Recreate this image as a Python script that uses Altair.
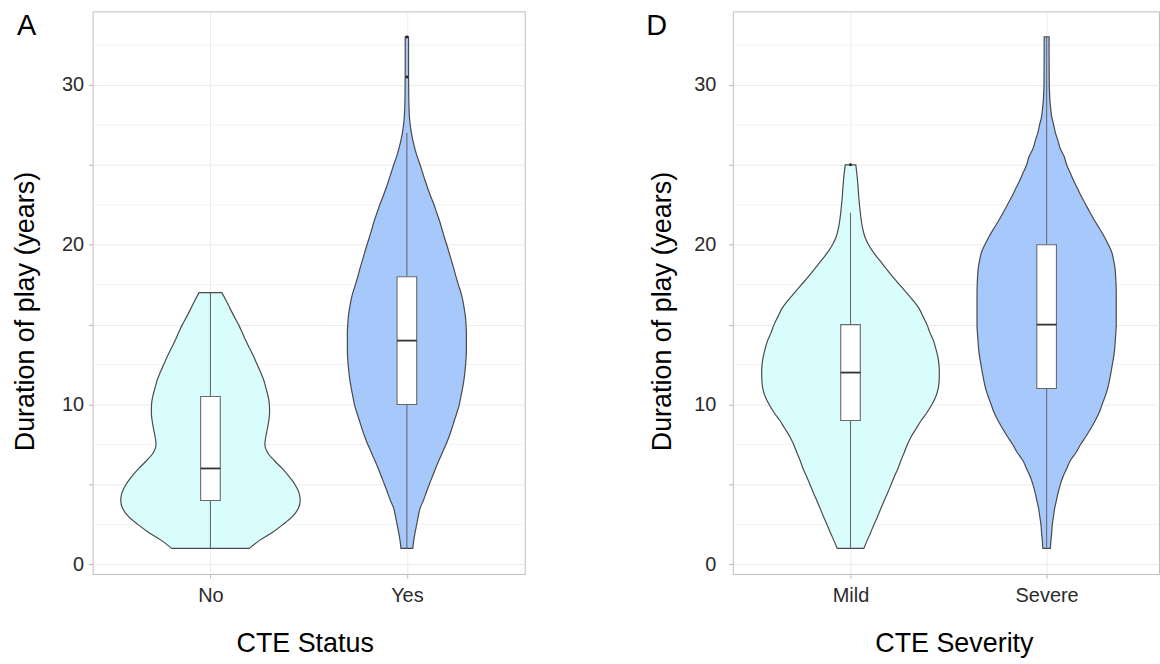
import altair as alt
import pandas as pd

FONT = "Liberation Sans"

# ---------------- data ----------------
status_cats = ["No", "Yes"]
severity_cats = ["Mild", "Severe"]
fill_light = "#d9fdfd"
fill_blue = "#a6c8fa"

# violin half-widths (in category units) at each duration value
no_y = [1.0, 1.5, 2.0, 2.5, 3.0, 3.5, 4.0, 4.5, 5.0, 5.5, 6.0, 6.5, 7.0, 7.5, 8.0, 8.5,
        9.0, 9.5, 10.0, 10.5, 11.0, 11.5, 12.0, 12.5, 13.0, 13.5, 14.0, 14.5, 15.0, 15.5,
        16.0, 16.5, 17.0]
no_hw = [0.198, 0.25, 0.315, 0.37, 0.418, 0.447, 0.457, 0.45, 0.43, 0.40, 0.365, 0.325,
         0.29, 0.277, 0.282, 0.29, 0.297, 0.301, 0.30, 0.294, 0.283, 0.272, 0.256, 0.238,
         0.22, 0.20, 0.18, 0.162, 0.143, 0.121, 0.10, 0.08, 0.058]

yes_y = [1.0, 1.5, 2.0, 2.5, 3.0, 3.5, 4.0, 4.5, 5.0, 5.5, 6.0, 6.5, 7.0, 7.5, 8.0, 8.5,
         9.0, 9.5, 10.0, 10.5, 11.0, 11.5, 12.0, 12.5, 13.0, 13.5, 14.0, 14.5, 15.0, 15.5,
         16.0, 16.5, 17.0, 17.5, 18.0, 18.5, 19.0, 19.5, 20.0, 20.5, 21.0, 21.5, 22.0, 22.5,
         23.0, 23.5, 24.0, 24.5, 25.0, 25.5, 26.0, 26.5, 27.0, 27.5, 28.0, 28.5, 29.0, 30.0,
         31.0, 32.0, 33.0]
yes_hw = [0.03, 0.035, 0.042, 0.05, 0.058, 0.067, 0.084, 0.099, 0.114, 0.13, 0.146, 0.163,
          0.181, 0.199, 0.215, 0.229, 0.242, 0.255, 0.267, 0.275, 0.283, 0.29, 0.295, 0.299,
          0.302, 0.303, 0.303, 0.303, 0.301, 0.298, 0.292, 0.285, 0.275, 0.262, 0.25, 0.239,
          0.227, 0.215, 0.203, 0.19, 0.178, 0.166, 0.152, 0.138, 0.122, 0.107, 0.093, 0.08,
          0.067, 0.053, 0.041, 0.031, 0.023, 0.017, 0.013, 0.011, 0.01, 0.009, 0.0085,
          0.0085, 0.0085]

mild_y = [1.0, 1.5, 2.0, 2.5, 3.0, 3.5, 4.0, 4.5, 5.0, 5.5, 6.0, 6.5, 7.0, 7.5, 8.0, 8.5,
          9.0, 9.5, 10.0, 10.5, 11.0, 11.5, 12.0, 12.5, 13.0, 13.5, 14.0, 14.5, 15.0, 15.5,
          16.0, 16.5, 17.0, 17.5, 18.0, 18.5, 19.0, 19.5, 20.0, 20.5, 21.0, 21.5, 22.0,
          23.0, 24.0, 25.0]
mild_hw = [0.068, 0.085, 0.103, 0.12, 0.138, 0.155, 0.172, 0.19, 0.207, 0.224, 0.242,
           0.257, 0.274, 0.29, 0.31, 0.335, 0.36, 0.39, 0.415, 0.435, 0.447, 0.452, 0.453,
           0.451, 0.445, 0.435, 0.423, 0.405, 0.39, 0.37, 0.35, 0.32, 0.285, 0.25, 0.215,
           0.182, 0.15, 0.118, 0.092, 0.073, 0.062, 0.055, 0.05, 0.042, 0.036, 0.027]

severe_y = [1.0, 1.5, 2.0, 2.5, 3.0, 3.5, 4.0, 4.5, 5.0, 5.5, 6.0, 6.5, 7.0, 7.5, 8.0, 8.5,
            9.0, 9.5, 10.0, 10.5, 11.0, 11.5, 12.0, 12.5, 13.0, 13.5, 14.0, 14.5, 15.0,
            15.5, 16.0, 16.5, 17.0, 17.5, 18.0, 18.5, 19.0, 19.5, 20.0, 20.5, 21.0, 21.5,
            22.0, 22.5, 23.0, 23.5, 24.0, 24.5, 25.0, 25.5, 26.0, 26.5, 27.0, 27.5, 28.0,
            28.5, 29.0, 29.5, 30.0, 31.0, 32.0, 33.0]
severe_hw = [0.019, 0.022, 0.026, 0.029, 0.035, 0.041, 0.05, 0.059, 0.07, 0.084, 0.103,
             0.121, 0.15, 0.173, 0.2, 0.225, 0.248, 0.268, 0.283, 0.298, 0.311, 0.32, 0.328,
             0.335, 0.342, 0.347, 0.35, 0.353, 0.355, 0.355, 0.355, 0.355, 0.355, 0.354,
             0.352, 0.349, 0.342, 0.333, 0.315, 0.294, 0.27, 0.245, 0.222, 0.2, 0.178,
             0.158, 0.138, 0.12, 0.102, 0.09, 0.07, 0.058, 0.045, 0.036, 0.026, 0.021,
             0.017, 0.015, 0.0135, 0.013, 0.0125, 0.0125]

# box-plot statistics (lower whisker, Q1, median, Q3, upper whisker)
status_lower = [1, 1]
status_q1 = [4, 10]
status_median = [6, 14]
status_q3 = [10.5, 18]
status_upper = [17, 27]
status_out_pos = [2, 2]
status_out_val = [30.5, 33]

severity_lower = [1, 1]
severity_q1 = [9, 11]
severity_median = [12, 15]
severity_q3 = [15, 20]
severity_upper = [22, 33]
severity_out_pos = [1]
severity_out_val = [25]

minor_grid = [2.5, 7.5, 12.5, 17.5, 22.5, 27.5, 32.5]
major_ticks = [0, 5, 10, 15, 20, 25, 30]

BOX_HALF = 0.05
Y_DOMAIN = [-0.6, 34.6]


def violin_df(cats, series):
    rows = []
    for i, (ys, hws) in enumerate(series):
        pos = i + 1
        for y, h in zip(ys, hws):
            rows.append({"grp": cats[i], "pos": pos, "y": y, "lo": pos - h, "hi": pos + h})
    return pd.DataFrame(rows)


def box_df(lower, q1, med, q3, upper):
    rows = []
    for i in range(len(q1)):
        pos = i + 1
        rows.append({"pos": pos, "lower": lower[i], "q1": q1[i], "med": med[i],
                     "q3": q3[i], "upper": upper[i],
                     "bl": pos - BOX_HALF, "br": pos + BOX_HALF})
    return pd.DataFrame(rows)


def panel(letter, letter_dx, cats, series, stats, outs, xdomain, width, xtitle, xtitle_x,
          y_label_pad, y_title_pad):
    xs = alt.Scale(domain=xdomain, nice=False, zero=False)
    ys = alt.Scale(domain=Y_DOMAIN, nice=False, zero=False)
    label_expr = f"datum.value == 1 ? '{cats[0]}' : '{cats[1]}'"
    x_axis = alt.Axis(values=[1, 2], labelExpr=label_expr, title=xtitle, grid=True,
                      labelPadding=8, titlePadding=25, titleX=xtitle_x)
    y_axis = alt.Axis(values=major_ticks,
                      labelExpr="datum.value % 10 == 0 ? datum.label : ''",
                      title="Duration of play (years)", grid=True,
                      labelPadding=y_label_pad, titlePadding=y_title_pad, titleY=301)

    vdf = violin_df(cats, series)
    bdf = box_df(*stats)
    odf = pd.DataFrame({"pos": outs[0], "val": outs[1]})
    gdf = pd.DataFrame({"g": minor_grid})
    ldf = pd.DataFrame({"t": [letter]})

    grid = alt.Chart(gdf).mark_rule(color="#f0f0f0", strokeWidth=0.8).encode(
        y=alt.Y("g:Q", scale=ys, axis=y_axis))

    violins = alt.Chart(vdf).mark_area(
        orient="horizontal", stroke="#4a4a4a", strokeWidth=1.2, interpolate="monotone",
        opacity=1
    ).encode(
        y=alt.Y("y:Q", scale=ys, axis=y_axis),
        x=alt.X("lo:Q", scale=xs, axis=x_axis),
        x2="hi:Q",
        color=alt.Color("grp:N", scale=alt.Scale(domain=cats, range=[fill_light, fill_blue]),
                        legend=None),
        detail="grp:N",
    )

    base = alt.Chart(bdf)
    whisk_lo = base.mark_rule(color="#6a6a6a", strokeWidth=1.1).encode(
        x=alt.X("pos:Q", scale=xs, axis=x_axis), y=alt.Y("lower:Q", scale=ys, axis=y_axis),
        y2="q1:Q")
    whisk_hi = base.mark_rule(color="#6a6a6a", strokeWidth=1.1).encode(
        x=alt.X("pos:Q", scale=xs, axis=x_axis), y=alt.Y("q3:Q", scale=ys, axis=y_axis),
        y2="upper:Q")
    boxes = base.mark_rect(fill="white", stroke="#6a6a6a", strokeWidth=1.1).encode(
        x=alt.X("bl:Q", scale=xs, axis=x_axis), x2="br:Q",
        y=alt.Y("q1:Q", scale=ys, axis=y_axis), y2="q3:Q")
    medians = base.mark_rule(color="#333333", strokeWidth=1.8).encode(
        x=alt.X("bl:Q", scale=xs, axis=x_axis), x2="br:Q",
        y=alt.Y("med:Q", scale=ys, axis=y_axis))
    outliers = alt.Chart(odf).mark_circle(color="#222222", size=9, opacity=1).encode(
        x=alt.X("pos:Q", scale=xs, axis=x_axis), y=alt.Y("val:Q", scale=ys, axis=y_axis))

    tag = alt.Chart(ldf).mark_text(
        align="left", baseline="alphabetic", fontSize=29, font=FONT, color="black"
    ).encode(text="t:N", x=alt.value(letter_dx), y=alt.value(23.5))

    return alt.layer(grid, violins, whisk_lo, whisk_hi, boxes, medians, outliers,
                     tag).properties(width=width, height=565)


left = panel(
    "A", -76, status_cats, [(no_y, no_hw), (yes_y, yes_hw)],
    (status_lower, status_q1, status_median, status_q3, status_upper),
    (status_out_pos, status_out_val), [0.4, 2.6], 434, "CTE Status", 213, 5, 22)

right = panel(
    "D", -87, severity_cats, [(mild_y, mild_hw), (severe_y, severe_hw)],
    (severity_lower, severity_q1, severity_median, severity_q3, severity_upper),
    (severity_out_pos, severity_out_val), [0.4, 2.573], 428, "CTE Severity", 222, 13, 17)

chart = alt.hconcat(left, right, spacing=120).properties(
    padding={"left": 11, "top": 9, "right": 0, "bottom": 0},
    background="white",
).configure_view(
    stroke="#bdbdbd", strokeWidth=1
).configure_axis(
    labelFont=FONT, titleFont=FONT, labelFontSize=20, titleFontSize=27,
    labelColor="#2b2b2b", titleColor="black", titleFontWeight="normal",
    tickColor="#b3b3b3", tickSize=4, domain=False, gridColor="#ebebeb", gridWidth=1
)

chart.save("out.html", embed_options={"renderer": "svg", "actions": False})
